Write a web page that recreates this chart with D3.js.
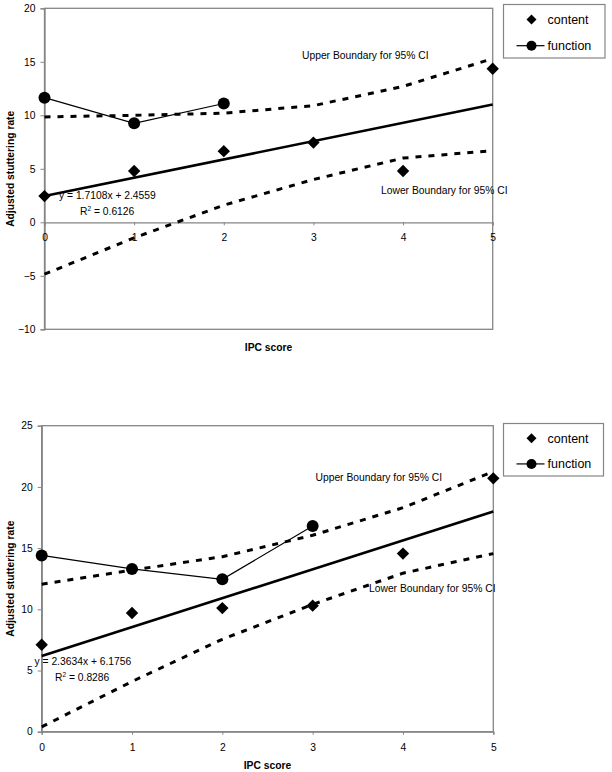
<!DOCTYPE html>
<html>
<head>
<meta charset="utf-8">
<script src="https://cdn.jsdelivr.net/npm/d3@7"></script>
<style>
  html, body { margin: 0; padding: 0; background: #fff; }
  svg { display: block; }
  text { font-family: "Liberation Sans", Arial, sans-serif; fill: #000; }
</style>
</head>
<body>
<svg id="chart" width="612" height="772"></svg>
<script>
// ---------- DATA ----------
const ipcScores = [0, 1, 2, 3, 4, 5];
const functionScores = [0, 1, 2];
const functionScoresB = [0, 1, 2, 3];

// Chart A (top)
const contentA = [2.45, 4.8, 6.65, 7.45, 4.8, 14.35];
const functionA = [11.65, 9.25, 11.1];
const upperA = [9.85, 10.0, 10.2, 10.9, 12.7, 15.3];
const lowerA = [-4.85, -1.45, 1.6, 4.0, 6.0, 6.7];
const trendA = { slope: 1.7108, intercept: 2.4559 };
const eqA = "y = 1.7108x + 2.4559";
const r2A = "0.6126";
const yTicksA = [-10, -5, 0, 5, 10, 15, 20];

// Chart B (bottom)
const contentB = [7.1, 9.7, 10.1, 10.3, 14.55, 20.7];
const functionB = [14.4, 13.3, 12.45, 16.8];
const upperB = [12.05, 13.2, 14.3, 16.05, 18.3, 21.25];
const lowerB = [0.4, 4.1, 7.55, 10.4, 12.95, 14.55];
const trendB = { slope: 2.3634, intercept: 6.1756 };
const eqB = "y = 2.3634x + 6.1756";
const r2B = "0.8286";
const yTicksB = [0, 5, 10, 15, 20, 25];

const xTickLabels = ["0", "1", "2", "3", "4", "5"];
const legendLabels = ["content", "function"];
const upperLabel = "Upper Boundary for 95% CI";
const lowerLabel = "Lower Boundary for 95% CI";
const xTitle = "IPC score";
const yTitle = "Adjusted stuttering rate";

// ---------- DRAW ----------
const svg = d3.select("#chart");
const GRAY = "#858585";
const FS = 10.3;

function diamondPath(s) { return `M0,${-s}L${s},0L0,${s}L${-s},0Z`; }

function drawChart(cfg) {
  const g = svg.append("g");
  const x = d3.scaleLinear().domain([0, 5]).range([cfg.left, cfg.right]);
  const y = d3.scaleLinear().domain(cfg.yDomain).range([cfg.bottom, cfg.top]);

  // plot border
  g.append("rect")
    .attr("x", cfg.left).attr("y", cfg.top)
    .attr("width", cfg.right - cfg.left).attr("height", cfg.bottom - cfg.top)
    .attr("fill", "none").attr("stroke", GRAY).attr("stroke-width", 1.3);

  // y axis
  const yAxis = g.append("g")
    .attr("transform", `translate(${cfg.left},0)`)
    .call(d3.axisLeft(y).tickValues(cfg.yTicks).tickSize(4).tickPadding(5));
  yAxis.select(".domain").attr("stroke", GRAY).attr("stroke-width", 1.3);
  yAxis.selectAll(".tick line").attr("stroke", GRAY);
  yAxis.selectAll(".tick text")
    .style("font-family", '"Liberation Sans", Arial, sans-serif')
    .style("font-size", FS + "px").attr("fill", "#000");

  // x axis at y = 0
  const xAxisY = y(0);
  const xAxis = g.append("g")
    .attr("transform", `translate(0,${xAxisY})`)
    .call(d3.axisBottom(x).tickValues(ipcScores).tickFormat((d, i) => xTickLabels[i]).tickSize(3));
  xAxis.select(".domain").attr("stroke", GRAY).attr("stroke-width", 1.3);
  xAxis.selectAll(".tick line").attr("stroke", GRAY);
  xAxis.selectAll(".tick text")
    .attr("y", 19).attr("dy", 0)
    .style("font-family", '"Liberation Sans", Arial, sans-serif')
    .style("font-size", FS + "px").attr("fill", "#000");

  // confidence boundaries
  const line = d3.line().x((d, i) => x(ipcScores[i])).y(d => y(d));
  [cfg.upper, cfg.lower].forEach(arr => {
    g.append("path").datum(arr).attr("d", line)
      .attr("fill", "none").attr("stroke", "#000")
      .attr("stroke-width", 3).attr("stroke-dasharray", "6,7");
  });

  // trend line
  g.append("line")
    .attr("x1", x(0)).attr("y1", y(cfg.trend.intercept))
    .attr("x2", x(5)).attr("y2", y(cfg.trend.intercept + 5 * cfg.trend.slope))
    .attr("stroke", "#000").attr("stroke-width", 2.6);

  // function series
  const fLine = d3.line().x((d, i) => x(cfg.fx[i])).y(d => y(d));
  g.append("path").datum(cfg.func).attr("d", fLine)
    .attr("fill", "none").attr("stroke", "#000").attr("stroke-width", 1.2);
  g.selectAll(".fpt").data(cfg.func).join("circle")
    .attr("cx", (d, i) => x(cfg.fx[i])).attr("cy", d => y(d)).attr("r", 6).attr("fill", "#000");

  // content series
  g.selectAll(".cpt").data(cfg.content).join("path")
    .attr("d", diamondPath(6.2))
    .attr("transform", (d, i) => `translate(${x(ipcScores[i])},${y(d)})`)
    .attr("fill", "#000");

  // annotations
  g.append("text").attr("x", cfg.upperPos[0]).attr("y", cfg.upperPos[1])
    .style("font-size", FS + "px").text(upperLabel);
  g.append("text").attr("x", cfg.lowerPos[0]).attr("y", cfg.lowerPos[1])
    .style("font-size", FS + "px").text(lowerLabel);
  g.append("text").attr("x", cfg.eqPos[0]).attr("y", cfg.eqPos[1])
    .style("font-size", FS + "px").text(cfg.eq);
  const r2 = g.append("text").attr("x", cfg.r2Pos[0]).attr("y", cfg.r2Pos[1])
    .style("font-size", FS + "px");
  r2.append("tspan").text("R");
  r2.append("tspan").attr("dy", -4).style("font-size", "6.5px").text("2");
  r2.append("tspan").attr("dy", 4).text(" = " + cfg.r2);

  // axis titles
  g.append("text")
    .attr("x", (cfg.left + cfg.right) / 2).attr("y", cfg.xTitleY)
    .attr("text-anchor", "middle").style("font-size", FS + "px").style("font-weight", "bold")
    .text(xTitle);
  g.append("text")
    .attr("transform", `translate(14,${(cfg.top + cfg.bottom) / 2}) rotate(-90)`)
    .attr("text-anchor", "middle").style("font-size", FS + "px").style("font-weight", "bold")
    .text(yTitle);

  // legend
  const L = cfg.legend;
  const lg = g.append("g");
  lg.append("rect").attr("x", L.x).attr("y", L.y).attr("width", L.w).attr("height", L.h)
    .attr("fill", "#fff").attr("stroke", GRAY).attr("stroke-width", 1.2);
  const row1 = L.y + L.h * 0.28, row2 = L.y + L.h * 0.77;
  lg.append("path").attr("d", diamondPath(5))
    .attr("transform", `translate(${L.x + 28},${row1})`).attr("fill", "#000");
  lg.append("line").attr("x1", L.x + 13).attr("x2", L.x + 41)
    .attr("y1", row2).attr("y2", row2).attr("stroke", "#000").attr("stroke-width", 1.2);
  lg.append("circle").attr("cx", L.x + 28).attr("cy", row2).attr("r", 5).attr("fill", "#000");
  lg.selectAll(".lt").data(legendLabels).join("text")
    .attr("x", L.x + 44).attr("y", (d, i) => (i === 0 ? row1 : row2) + 4.5)
    .style("font-size", "12.5px").text(d => d);
}

drawChart({
  left: 44.5, right: 492.7, top: 8.3, bottom: 329.3,
  yDomain: [-10, 20], yTicks: yTicksA,
  content: contentA, func: functionA, fx: functionScores,
  upper: upperA, lower: lowerA, trend: trendA, eq: eqA, r2: r2A,
  upperPos: [302, 59], lowerPos: [381, 194], eqPos: [59, 199], r2Pos: [80, 215],
  xTitleY: 351,
  legend: { x: 503.5, y: 4.5, w: 101.5, h: 53.5 }
});

drawChart({
  left: 41.7, right: 493.3, top: 425.7, bottom: 731.7,
  yDomain: [0, 25], yTicks: yTicksB,
  content: contentB, func: functionB, fx: functionScoresB,
  upper: upperB, lower: lowerB, trend: trendB, eq: eqB, r2: r2B,
  upperPos: [315.5, 481], lowerPos: [369, 592], eqPos: [34.5, 665], r2Pos: [55, 681],
  xTitleY: 769,
  legend: { x: 503.5, y: 423.5, w: 100, h: 52.5 }
});
</script>
</body>
</html>
